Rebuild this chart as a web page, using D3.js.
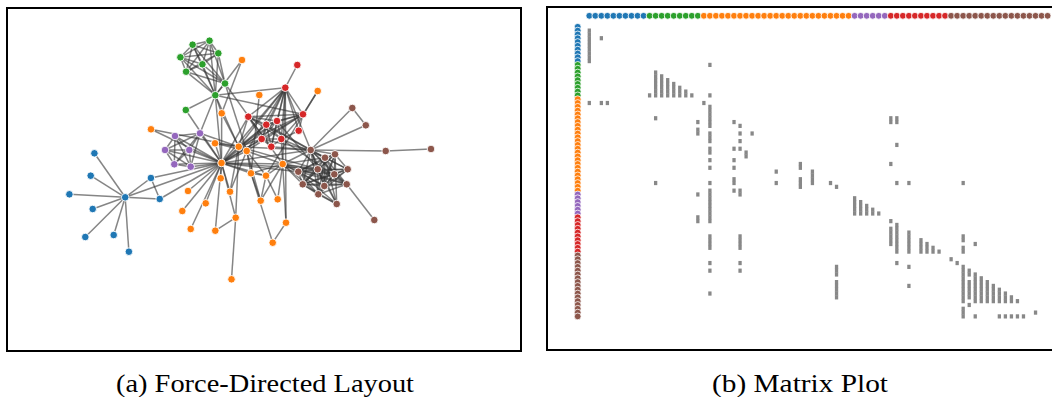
<!DOCTYPE html>
<html><head><meta charset="utf-8">
<script src="https://cdn.jsdelivr.net/npm/d3@7"></script>
<style>html,body{margin:0;padding:0;background:#fff;}svg{display:block;}</style>
</head><body>
<svg id="chart" width="1052" height="397"></svg>
<script>
// ---- data ----
const nodeNames = ["Myriel","Napoleon","Mlle.Baptistine","Mme.Magloire","CountessdeLo","Geborand","Champtercier","Cravatte","Count","OldMan",
"Labarre","Valjean","Marguerite","Mme.deR","Isabeau","Gervais","Tholomyes","Listolier","Fameuil","Blacheville",
"Favourite","Dahlia","Zephine","Fantine","Mme.Thenardier","Thenardier","Cosette","Javert","Fauchelevent","Bamatabois",
"Perpetue","Simplice","Scaufflaire","Woman1","Judge","Champmathieu","Brevet","Chenildieu","Cochepaille","Pontmercy",
"Boulatruelle","Eponine","Anzelma","Woman2","MotherInnocent","Gribier","Jondrette","Mme.Burgon","Gavroche","Gillenormand",
"Magnon","Mlle.Gillenormand","Mme.Pontmercy","Mlle.Vaubois","Lt.Gillenormand","Marius","BaronessT","Mabeuf","Enjolras","Combeferre",
"Prouvaire","Feuilly","Courfeyrac","Bahorel","Bossuet","Joly","Grantaire","MotherPlutarch","Gueulemer","Babet",
"Claquesous","Montparnasse","Toussaint","Child1","Child2","Brujon","Mme.Hucheloup"];

// community of each node (0 blue, 1 green, 2 orange, 3 purple, 4 red, 5 brown)
const nodeGroups = [0,0,0,0,0,0,0,0,0,0, 2,2,1,2,2,2, 1,1,1,1,1,1,1,1, 4,4, 2,2,2, 3, 2,2,2,2, 3,3,3,3,3, 2,
 4,4,4, 2,2,2, 5,5,5, 2,2,2,2,2,2,2,2, 5, 5,5,5,5,5,5,5,5,5, 5, 4,4,4,4, 2, 5,5, 4, 5];

// links [source, target]
const links = [[1,0],[2,0],[3,0],[3,2],[4,0],[5,0],[6,0],[7,0],[8,0],[9,0],[11,10],[11,3],[11,2],[11,0],[12,11],[13,11],[14,11],[15,11],
[17,16],[18,16],[18,17],[19,16],[19,17],[19,18],[20,16],[20,17],[20,18],[20,19],[21,16],[21,17],[21,18],[21,19],[21,20],
[22,16],[22,17],[22,18],[22,19],[22,20],[22,21],[23,16],[23,17],[23,18],[23,19],[23,20],[23,21],[23,22],[23,12],[23,11],
[24,23],[24,11],[25,24],[25,23],[25,11],[26,24],[26,11],[26,16],[26,25],[27,11],[27,23],[27,25],[27,24],[27,26],[28,11],[28,27],
[29,23],[29,27],[29,11],[30,23],[31,30],[31,11],[31,23],[31,27],[32,11],[33,11],[33,27],[34,11],[34,29],[35,11],[35,34],[35,29],
[36,34],[36,35],[36,11],[36,29],[37,34],[37,35],[37,36],[37,11],[37,29],[38,34],[38,35],[38,36],[38,37],[38,11],[38,29],
[39,25],[40,25],[41,24],[41,25],[42,41],[42,25],[42,24],[43,11],[43,26],[43,27],[44,28],[44,11],[45,28],[47,46],[48,47],
[48,25],[48,27],[48,11],[49,26],[49,11],[50,49],[50,24],[51,49],[51,26],[51,11],[52,51],[52,39],[53,51],[54,51],[54,49],[54,26],
[55,51],[55,49],[55,39],[55,54],[55,26],[55,11],[55,16],[55,25],[55,41],[55,48],[56,49],[56,55],[57,55],[57,41],[57,48],
[58,55],[58,48],[58,27],[58,57],[58,11],[59,58],[59,55],[59,48],[59,57],[60,48],[60,58],[60,59],[61,48],[61,58],[61,60],[61,59],
[61,57],[61,55],[62,55],[62,58],[62,59],[62,48],[62,57],[62,41],[62,61],[62,60],[63,59],[63,48],[63,62],[63,57],[63,58],[63,61],
[63,60],[63,55],[64,55],[64,62],[64,48],[64,63],[64,58],[64,61],[64,60],[64,59],[64,57],[64,11],[65,63],[65,64],[65,48],[65,62],
[65,58],[65,61],[65,60],[65,59],[65,57],[65,55],[66,64],[66,58],[66,59],[66,62],[66,65],[66,48],[66,63],[66,61],[66,60],[67,57],
[68,25],[68,11],[68,24],[68,27],[68,48],[68,41],[69,25],[69,68],[69,11],[69,24],[69,27],[69,48],[69,41],[70,25],[70,69],[70,68],
[70,11],[70,24],[70,27],[70,41],[70,58],[71,27],[71,69],[71,68],[71,70],[71,11],[71,48],[71,41],[71,25],[72,26],[72,27],[72,11],
[73,48],[74,48],[74,73],[75,69],[75,68],[75,25],[75,48],[75,41],[75,70],[75,71],[76,64],[76,65],[76,66],[76,63],[76,62],[76,48],[76,58]];

// force-layout coordinates (layout units)
const layoutX = [118.2,87.4,143.9,152.7,83.7,62.4,85.7,78.3,106.7,121.9,
183.7,214.5,178.8,181,213.7,198.7,218,185.6,202.5,211.3,
173.4,195.4,179.1,208.3,296,278.3,239.7,231.7,228.7,193,
235,214.7,175.3,144,168,158,182.3,167.3,183.7,279,
290.3,274.3,291.7,223,208.3,224.5,424,378.7,303.7,259,
310.7,244,265.7,252.3,253.7,275.7,270.7,339.7,310.7,327.3,
340.7,317.3,318,295.7,291.3,311.3,328,367.3,241.3,259.3,
270,254.7,208,345.3,358.8,264.3,329.7];
const layoutY = [190.3,146.3,171,192,168.7,187.3,202,230,228,244.7,
222,156,103,184,171.3,196.3,76.5,37.7,33.7,46.3,
50.3,57.3,64.7,88.2,107.3,80.7,144,139.7,210.7,126.3,
53,106.3,204,122.3,129,143,143,157.3,159.7,215.7,
58,132,123.7,184.7,223.7,272.3,142,144,143,168.7,
84,166.3,235.7,88,193.7,157,192.3,177.3,162.3,167.3,
162.3,179,150.7,177.3,164.7,187.3,147.3,213,109.7,117.7,
114,132,136.3,101,118.3,139.7,197];

const groupOrder = [0,1,2,3,4,5];
const groupColors = ["#1f77b4","#2ca02c","#ff7f0e","#9467bd","#d62728","#8c564b"];
const captions = ["(a) Force-Directed Layout","(b) Matrix Plot"];

// ---- drawing ----
const svg = d3.select("#chart");

// Panel (a): force-directed layout
const gA = svg.append("g");
const xA = d3.scaleLinear().domain([0,514]).range([7,521]);
const yA = d3.scaleLinear().domain([0,344]).range([7,351]);

gA.append("g").selectAll("line").data(links).join("line")
  .attr("x1", d => xA(layoutX[d[0]])).attr("y1", d => yA(layoutY[d[0]]))
  .attr("x2", d => xA(layoutX[d[1]])).attr("y2", d => yA(layoutY[d[1]]))
  .attr("stroke", "#333").attr("stroke-opacity", 0.6).attr("stroke-width", 1.5);

gA.append("g").selectAll("circle").data(d3.range(nodeNames.length)).join("circle")
  .attr("cx", i => xA(layoutX[i])).attr("cy", i => yA(layoutY[i]))
  .attr("r", 3.8)
  .attr("fill", i => groupColors[nodeGroups[i]])
  .attr("stroke", "#fff").attr("stroke-width", 0.9);

gA.append("rect").attr("x", 7).attr("y", 8).attr("width", 514).attr("height", 343)
  .attr("fill", "none").attr("stroke", "#000").attr("stroke-width", 2);

// Panel (b): matrix plot ordered by community
const order = d3.range(nodeNames.length).sort((a, b) =>
  d3.ascending(groupOrder.indexOf(nodeGroups[a]), groupOrder.indexOf(nodeGroups[b])) || d3.ascending(a, b));
const pos = new Array(nodeNames.length);
order.forEach((n, k) => pos[n] = k);

const gB = svg.append("g");
const colX = d3.scaleLinear().domain([0, 76]).range([589.3, 1047.6]);
const rowY = d3.scaleLinear().domain([0, 76]).range([26.8, 316.4]);
const cellW = 3.3, cellH = rowY(1) - rowY(0);

gB.append("g").selectAll("rect").data(links).join("rect")
  .attr("x", d => colX(pos[d[1]]) - cellW / 2)
  .attr("y", d => rowY(pos[d[0]]) - cellH / 2 - 0.2)
  .attr("width", cellW).attr("height", cellH + 0.4)
  .attr("fill", "#888");

gB.append("g").selectAll("circle").data(order).join("circle")
  .attr("cx", (n, k) => colX(k)).attr("cy", 15.8).attr("r", 3.4)
  .attr("fill", n => groupColors[nodeGroups[n]])
  .attr("stroke", "#fff").attr("stroke-width", 0.8);

gB.append("g").selectAll("circle").data(order).join("circle")
  .attr("cx", 577.7).attr("cy", (n, k) => rowY(k)).attr("r", 3.4)
  .attr("fill", n => groupColors[nodeGroups[n]])
  .attr("stroke", "#fff").attr("stroke-width", 0.8);

gB.append("rect").attr("x", 547).attr("y", 7).attr("width", 560).attr("height", 343)
  .attr("fill", "none").attr("stroke", "#000").attr("stroke-width", 2);

// captions
svg.append("text").attr("x", 265).attr("y", 391.5).attr("text-anchor", "middle")
  .attr("font-family", "'Liberation Serif', 'DejaVu Serif', serif").attr("font-size", 25)
  .attr("textLength", 298).attr("lengthAdjust", "spacingAndGlyphs")
  .text(captions[0]);
svg.append("text").attr("x", 800).attr("y", 391.5).attr("text-anchor", "middle")
  .attr("font-family", "'Liberation Serif', 'DejaVu Serif', serif").attr("font-size", 25)
  .attr("textLength", 176).attr("lengthAdjust", "spacingAndGlyphs")
  .text(captions[1]);
</script>
</body></html>
